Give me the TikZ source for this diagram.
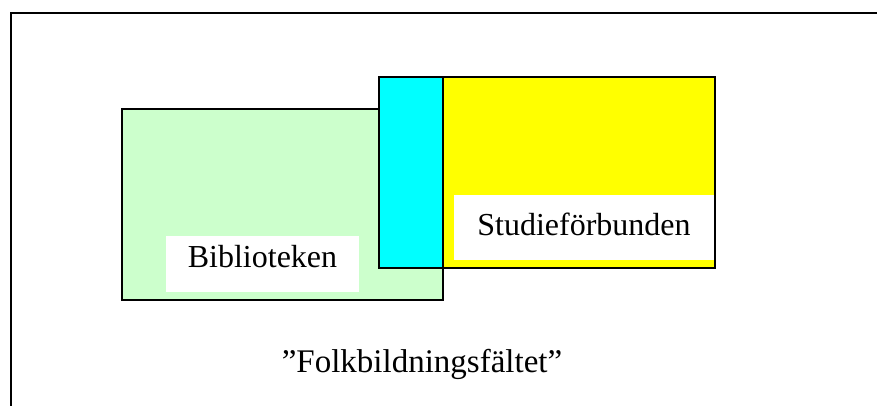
\documentclass[tikz,border=0pt]{standalone}
\usepackage{fontspec}
\setmainfont{Liberation Serif}
\usetikzlibrary{positioning}
\definecolor{libraryGreen}{RGB}{204,255,204}
\definecolor{overlapCyan}{RGB}{0,255,255}
\definecolor{studyYellow}{RGB}{255,255,0}
\tikzstyle{field} = [x = 1pt, y = -1pt]
\tikzstyle{frameLine} = [color=black, line width=1.6pt]
\tikzstyle{boxStyle} = [draw=black, line width=1.6pt]
\tikzstyle{labelBox} = [fill=white, inner sep=0pt, font=\fontsize{32}{36}\selectfont]
\tikzstyle{titleText} = [inner sep=0pt, anchor=base, font=\fontsize{33}{38}\selectfont]
\begin{document}
\begin{tikzpicture}[field]
  \useasboundingbox (0,0) rectangle (877,405);
  \clip (0,0) rectangle (877,405);
  % outer frame
  \draw [frameLine] (11,430) -- (11,13) -- (900,13);
  % the two fields and their overlap
  \filldraw [boxStyle, fill=libraryGreen] (122,109) rectangle (443,300);
  \filldraw [boxStyle, fill=studyYellow] (443,77) rectangle (715,268);
  \filldraw [boxStyle, fill=overlapCyan] (379,77) rectangle (443,268);
  % labels
  \node [labelBox, minimum width=193, text height=31, text depth=25] (bibliotek) at (262.5,264) {Biblioteken};
  \node [labelBox, minimum width=260, text height=40, text depth=25] (studieforbund) at (584,227.5) {Studieförbunden};
  \node [titleText] (falt) at (422,372.5) {”Folkbildningsfältet”};
\end{tikzpicture}
\end{document}
